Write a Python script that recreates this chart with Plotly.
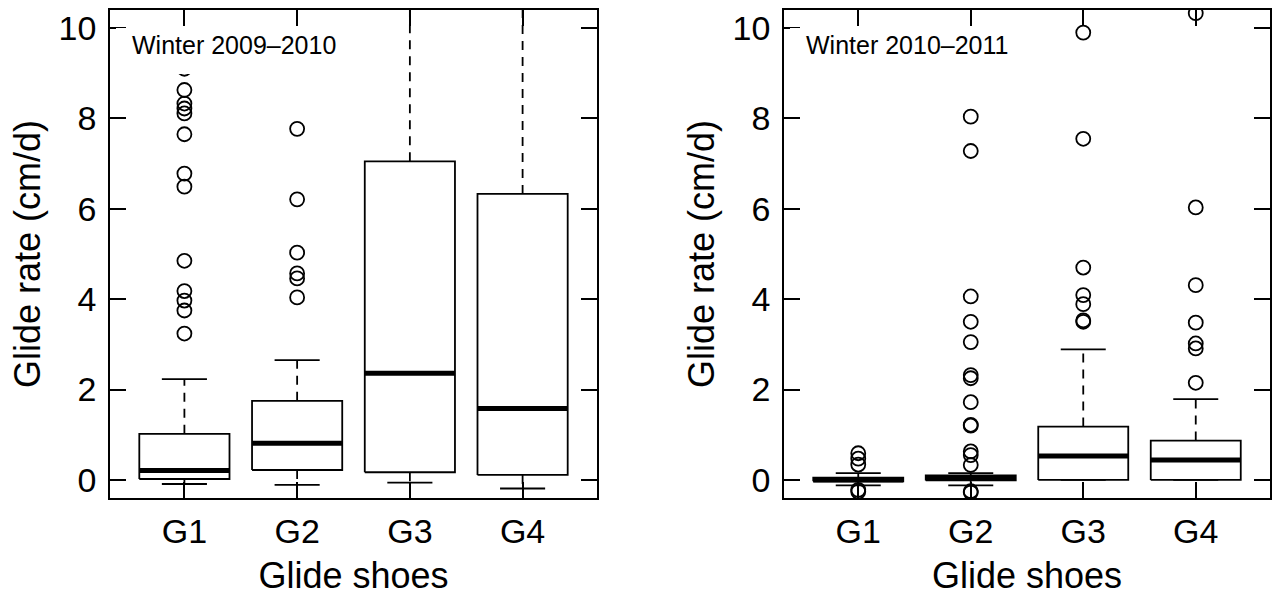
import plotly.graph_objects as go

W, H = 1277, 599

groups = ["G1", "G2", "G3", "G4"]
panel_labels = ["Winter 2009\u20132010", "Winter 2010\u20132011"]

# Winter 2009-2010
w1_lower = [-0.09, -0.11, -0.06, -0.19]
w1_q1 = [0.02, 0.22, 0.17, 0.11]
w1_median = [0.21, 0.81, 2.36, 1.58]
w1_q3 = [1.02, 1.75, 7.05, 6.33]
w1_upper = [2.23, 2.65, 11.5, 11.5]
w1_outliers = [
    [9.1, 8.63, 8.33, 8.22, 8.11, 7.65, 6.78, 6.49, 4.85, 4.18, 3.97, 3.75, 3.24],
    [7.77, 6.21, 5.03, 4.57, 4.46, 4.04],
    [],
    [],
]

# Winter 2010-2011
w2_lower = [-0.12, -0.12, 0.0, 0.0]
w2_q1 = [-0.03, -0.01, 0.0, 0.0]
w2_median = [0.0, 0.04, 0.53, 0.44]
w2_q3 = [0.05, 0.10, 1.18, 0.87]
w2_upper = [0.15, 0.15, 2.89, 1.79]
w2_outliers = [
    [0.59, 0.47, 0.34, -0.22, -0.26],
    [8.04, 7.28, 4.06, 3.50, 3.05, 2.32, 2.25, 1.72, 1.22, 1.20, 0.63, 0.55, 0.33, -0.25, -0.28],
    [9.90, 7.55, 4.70, 4.09, 3.89, 3.53, 3.50],
    [10.33, 6.03, 4.31, 3.48, 3.02, 2.91, 2.15],
]

y_ticks = [0, 2, 4, 6, 8, 10]
y_range = [-0.4, 10.4]
x_range = [0.34, 4.66]

FONT = "Liberation Sans, Arial, Helvetica, sans-serif"
BOXW = 0.4   # half box width
CAPW = 0.2   # half staple width

panels = [
    (w1_lower, w1_q1, w1_median, w1_q3, w1_upper, w1_outliers),
    (w2_lower, w2_q1, w2_median, w2_q3, w2_upper, w2_outliers),
]

fig = go.Figure()

for p, (lo, q1, med, q3, up, outs) in enumerate(panels):
    xa = "x" if p == 0 else "x2"
    ya = "y" if p == 0 else "y2"
    bx, by, mx, my, wx, wy, cx, cy, ox, oy = [], [], [], [], [], [], [], [], [], []
    for i in range(len(groups)):
        c = i + 1
        bx += [c - BOXW, c + BOXW, c + BOXW, c - BOXW, c - BOXW, None]
        by += [q1[i], q1[i], q3[i], q3[i], q1[i], None]
        mx += [c - BOXW, c + BOXW, None]
        my += [med[i], med[i], None]
        wx += [c, c, None, c, c, None]
        wy += [q3[i], up[i], None, q1[i], lo[i], None]
        cx += [c - CAPW, c + CAPW, None, c - CAPW, c + CAPW, None]
        cy += [up[i], up[i], None, lo[i], lo[i], None]
        for v in outs[i]:
            ox.append(c)
            oy.append(v)
    common = dict(xaxis=xa, yaxis=ya, showlegend=False, hoverinfo="skip")
    fig.add_trace(go.Scatter(x=wx, y=wy, mode="lines",
                             line=dict(color="black", width=1.8, dash="9px,7px"), **common))
    fig.add_trace(go.Scatter(x=cx, y=cy, mode="lines",
                             line=dict(color="black", width=1.8), **common))
    fig.add_trace(go.Scatter(x=bx, y=by, mode="lines",
                             line=dict(color="black", width=1.8), **common))
    fig.add_trace(go.Scatter(x=mx, y=my, mode="lines",
                             line=dict(color="black", width=5), **common))
    fig.add_trace(go.Scatter(x=ox, y=oy, mode="markers",
                             marker=dict(symbol="circle-open", size=14, color="black",
                                         line=dict(width=1.8, color="black")),
                             **common))

x_domains = [[110 / W, 597 / W], [784 / W, 1270 / W]]
y_domain = [(H - 498) / H, (H - 10) / H]

axis_common = dict(showline=True, linecolor="black", linewidth=1.8, mirror="ticks",
                   ticks="inside", ticklen=16, tickwidth=1.8, tickcolor="black",
                   showgrid=False, zeroline=False, automargin=False,
                   tickfont=dict(family=FONT, size=34, color="black"))

for p in range(2):
    sx = "" if p == 0 else "2"
    fig.update_layout(**{
        "xaxis" + sx: dict(domain=x_domains[p], range=x_range, tickmode="array",
                           tickvals=[1, 2, 3, 4], ticktext=groups,
                           ticklabelstandoff=2,
                           title=dict(text="Glide shoes", standoff=14,
                                      font=dict(family=FONT, size=36, color="black")),
                           anchor="y" + sx, **axis_common),
        "yaxis" + sx: dict(domain=y_domain, range=y_range, tickmode="array",
                           tickvals=y_ticks, ticktext=[str(t) for t in y_ticks],
                           ticklabelstandoff=5,
                           title=dict(text="Glide rate (cm/d)", standoff=7,
                                      font=dict(family=FONT, size=36, color="black")),
                           anchor="x" + sx, **axis_common),
    })

# white legend-style background boxes with panel labels
for p in range(2):
    x0 = x_domains[p][0] * W + 6
    fig.add_shape(type="rect", xref="paper", yref="paper",
                  x0=x0 / W, x1=(x0 + 232) / W, y0=(H - 74) / H, y1=(H - 28) / H,
                  fillcolor="white", line=dict(width=0), layer="above")
    fig.add_annotation(xref="paper", yref="paper", x=(x0 + 14) / W, y=(H - 45) / H,
                       xanchor="left", yanchor="middle", showarrow=False,
                       text=panel_labels[p], font=dict(family=FONT, size=25, color="black"))

fig.update_layout(width=W, height=H, margin=dict(l=0, r=0, t=0, b=0),
                  paper_bgcolor="white", plot_bgcolor="white")

fig.write_html("out.html", config={"displayModeBar": False},
               post_script="document.body.style.margin='0';document.body.style.overflow='hidden';")
